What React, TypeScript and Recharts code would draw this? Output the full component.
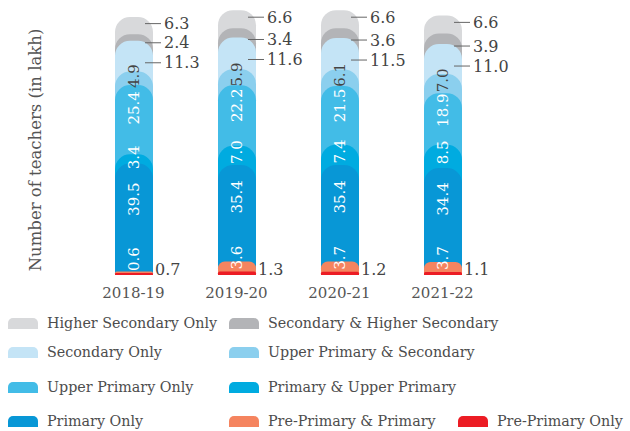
import React from 'react';
import { BarChart, Bar, XAxis, YAxis, LabelList } from 'recharts';

const years = ['2018-19', '2019-20', '2020-21', '2021-22'];

// values in lakh
const preOnly = [0.7, 1.3, 1.2, 1.1];
const prePrimary = [0.6, 3.6, 3.7, 3.7];
const primaryOnly = [39.5, 35.4, 35.4, 34.4];
const primaryUpper = [3.4, 7.0, 7.4, 8.5];
const upperOnly = [25.4, 22.2, 21.5, 18.9];
const upperSecondary = [4.9, 5.9, 6.1, 7.0];
const secondaryOnly = [11.3, 11.6, 11.5, 11.0];
const secHigher = [2.4, 3.4, 3.6, 3.9];
const higherOnly = [6.3, 6.6, 6.6, 6.6];

const data = years.map((year, i) => ({
  year,
  higherOnly: higherOnly[i],
  secHigher: secHigher[i],
  secondaryOnly: secondaryOnly[i],
  upperSecondary: upperSecondary[i],
  upperOnly: upperOnly[i],
  primaryUpper: primaryUpper[i],
  primaryOnly: primaryOnly[i],
  prePrimary: prePrimary[i],
  preOnly: preOnly[i],
}));

const FONT = '"DejaVu Serif", serif';

// first = top of stack (reverseStackOrder), drawn first so lower ones sit on top
const series = [
  { key: 'higherOnly', name: 'Higher Secondary Only', color: '#d8d9db', label: 'right1' },
  { key: 'secHigher', name: 'Secondary & Higher Secondary', color: '#b3b4b7', label: 'right2' },
  { key: 'secondaryOnly', name: 'Secondary Only', color: '#c4e4f6', label: 'right3' },
  { key: 'upperSecondary', name: 'Upper Primary & Secondary', color: '#8bcfee', label: 'insideDark' },
  { key: 'upperOnly', name: 'Upper Primary Only', color: '#42bce7', label: 'inside' },
  { key: 'primaryUpper', name: 'Primary & Upper Primary', color: '#00abe0', label: 'inside' },
  { key: 'primaryOnly', name: 'Primary Only', color: '#0897d6', label: 'inside' },
  { key: 'prePrimary', name: 'Pre-Primary & Primary', color: '#f5845f', label: 'bottom' },
  { key: 'preOnly', name: 'Pre-Primary Only', color: '#ec1c24', label: 'rightBottom' },
];

const RoundTop = (props: any) => {
  const { x, y, width, height, fill, background } = props;
  if (width == null || height == null) return null;
  const base = background ? background.y + background.height : y + height;
  const h = base - y;
  if (h <= 0) return null;
  const r = Math.min(15, h / 2, width / 2);
  const d = `M${x},${base} L${x},${y + r} A${r},${r} 0 0 1 ${x + r},${y} L${x + width - r},${y} A${r},${r} 0 0 1 ${x + width},${y + r} L${x + width},${base} Z`;
  return <path d={d} fill={fill} />;
};

const makeLabel = (mode: string) => (props: any) => {
  const vb = props.viewBox && props.viewBox.width != null ? props.viewBox : props;
  const { x, y, width, height } = vb;
  const value = props.value;
  if (x == null || value == null) return null;
  const txt = Number(value).toFixed(1);
  const cx = x + width / 2;
  const right = x + width;
  if (mode.startsWith('right') && mode !== 'rightBottom') {
    let ly = y + height / 2 - 2;
    if (mode === 'right2') ly = y + height + 2;
    if (mode === 'right3') ly = y + 22;
    return (
      <g>
        <line x1={right - 8} x2={right + 8} y1={ly} y2={ly} stroke="#666" strokeWidth={1} />
        <text x={right + 11} y={ly} dominantBaseline="central" fontSize={16} fill="#444" fontFamily={FONT}>
          {txt}
        </text>
      </g>
    );
  }
  if (mode === 'rightBottom') {
    return (
      <text x={right + 2} y={y + height - 6} dominantBaseline="central" fontSize={16} fill="#444" fontFamily={FONT}>
        {txt}
      </text>
    );
  }
  if (mode === 'bottom') {
    const by = y + height - 2;
    return (
      <text
        x={cx}
        y={by}
        transform={`rotate(-90 ${cx} ${by})`}
        textAnchor="start"
        dominantBaseline="central"
        fontSize={15}
        fill="#fff"
        fontFamily={FONT}
      >
        {txt}
      </text>
    );
  }
  const my = y + height / 2 - height * 0.17;
  return (
    <text
      x={cx}
      y={my}
      transform={`rotate(-90 ${cx} ${my})`}
      textAnchor="middle"
      dominantBaseline="central"
      fontSize={15}
      fill={mode === 'insideDark' ? '#444' : '#fff'}
      fontFamily={FONT}
    >
      {txt}
    </text>
  );
};

const YearTick = (props: any) => {
  const { x, y, payload } = props;
  return (
    <text x={x} y={y + 15} textAnchor="middle" fontSize={15} fill="#555" fontFamily={FONT}>
      {payload.value}
    </text>
  );
};

const legendRows = [
  [0, 1],
  [2, 3],
  [4, 5],
  [6, 7, 8],
];
const rowTops = [323, 352, 387, 421];
const colLeft = [8, 229, 458];

const Swatch = ({ color }: { color: string }) => (
  <svg width={30} height={11} style={{ display: 'block' }}>
    <path d="M0,11 L0,5 A5,5 0 0 1 5,0 L25,0 A5,5 0 0 1 30,5 L30,11 Z" fill={color} />
  </svg>
);

export default function App() {
  return (
    <div style={{ position: 'absolute', left: 0, top: 0, width: 630, height: 431, background: '#fff' }}>
      <BarChart
        width={630}
        height={431}
        data={data}
        reverseStackOrder
        margin={{ top: 2, right: 136, left: 82, bottom: 136 }}
      >
        <XAxis dataKey="year" axisLine={false} tickLine={false} height={20} tick={<YearTick />} interval={0} />
        <YAxis hide domain={[0, 100]} />
        {series.map((s) => (
          <Bar
            key={s.key}
            dataKey={s.key}
            name={s.name}
            stackId="t"
            fill={s.color}
            barSize={38}
            shape={<RoundTop />}
            isAnimationActive={false}
          >
            <LabelList dataKey={s.key} content={makeLabel(s.label)} />
          </Bar>
        ))}
      </BarChart>
      <svg style={{ position: 'absolute', left: 0, top: 0 }} width={70} height={300}>
        <text
          x={35}
          y={150}
          transform="rotate(-90 35 150)"
          textAnchor="middle"
          dominantBaseline="central"
          fontSize={16.5}
          fill="#555"
          fontFamily={FONT}
        >
          Number of teachers (in lakh)
        </text>
      </svg>
      {legendRows.map((row, ri) =>
        row.map((si, ci) => (
          <div
            key={series[si].key}
            style={{
              position: 'absolute',
              left: colLeft[ci],
              top: rowTops[ri] - 10,
              height: 20,
              display: 'flex',
              alignItems: 'center',
              fontFamily: FONT,
              fontSize: 14.3,
              color: '#4d4d4d',
              whiteSpace: 'nowrap',
            }}
          >
            <Swatch color={series[si].color} />
            <span style={{ marginLeft: 9 }}>{series[si].name}</span>
          </div>
        ))
      )}
    </div>
  );
}
